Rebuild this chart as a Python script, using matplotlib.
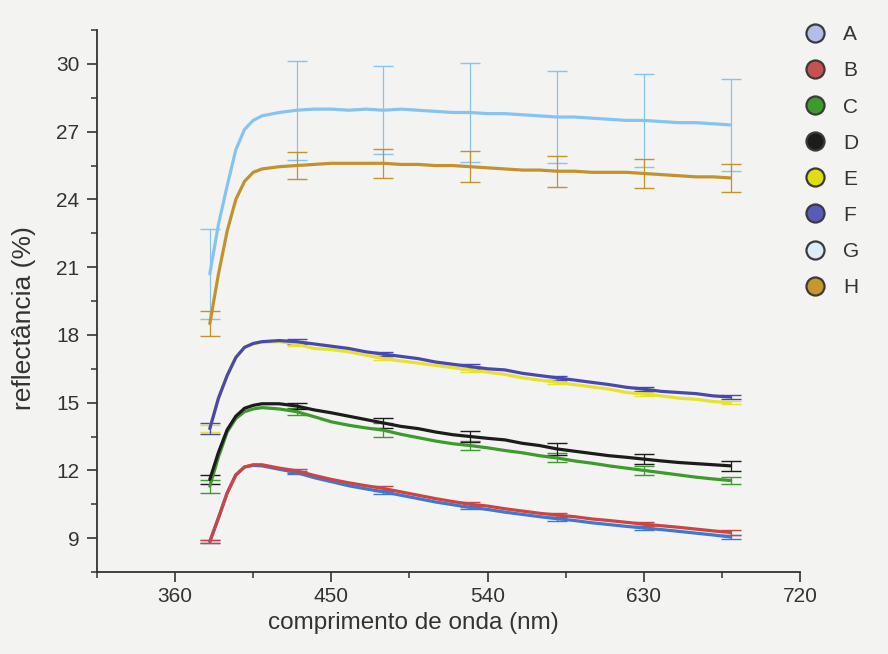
import matplotlib
matplotlib.use("Agg")
import matplotlib.pyplot as plt
from matplotlib.lines import Line2D
from matplotlib.ticker import MultipleLocator

plt.rcParams['font.family'] = ['Liberation Sans', 'DejaVu Sans']

# wavelength grid (nm)
wavelength = [380, 385, 390, 395, 400, 405, 410,
              420, 430, 440, 450, 460, 470, 480, 490, 500, 510, 520, 530,
              540, 550, 560, 570, 580, 590, 600, 610, 620, 630, 640, 650,
              660, 670, 680]

# reflectance (%) for each sample
refl_A = [8.85, 9.9, 11.0, 11.8, 12.15, 12.22, 12.2,
          12.05, 11.9, 11.68, 11.5, 11.32, 11.18, 11.05, 10.9, 10.75, 10.6, 10.48, 10.36,
          10.27, 10.15, 10.05, 9.95, 9.86, 9.78, 9.68, 9.6, 9.52, 9.45, 9.38, 9.3,
          9.22, 9.14, 9.05]
refl_B = [8.85, 9.9, 11.0, 11.8, 12.15, 12.25, 12.25,
          12.1, 11.98, 11.78, 11.6, 11.45, 11.32, 11.2, 11.05, 10.9, 10.75, 10.62, 10.5,
          10.42, 10.3, 10.2, 10.1, 10.02, 9.95, 9.85, 9.78, 9.7, 9.62, 9.55, 9.48,
          9.4, 9.32, 9.25]
refl_C = [11.3, 12.6, 13.7, 14.3, 14.6, 14.72, 14.78,
          14.72, 14.6, 14.38, 14.15, 14.0, 13.88, 13.78, 13.6, 13.45, 13.3, 13.18, 13.1,
          13.0, 12.88, 12.78, 12.65, 12.55, 12.42, 12.32, 12.2, 12.1, 12.0, 11.9, 11.8,
          11.7, 11.62, 11.55]
refl_D = [11.6, 12.8, 13.8, 14.4, 14.75, 14.88, 14.95,
          14.95, 14.85, 14.68, 14.55, 14.4, 14.25, 14.1, 13.95, 13.85, 13.7, 13.58, 13.5,
          13.42, 13.35, 13.2, 13.1, 12.95, 12.85, 12.75, 12.65, 12.58, 12.5, 12.42, 12.35,
          12.3, 12.25, 12.2]
refl_E = [13.85, 15.2, 16.2, 17.0, 17.45, 17.6, 17.68,
          17.7, 17.6, 17.4, 17.35, 17.25, 17.1, 16.95, 16.85, 16.75, 16.65, 16.55, 16.45,
          16.35, 16.25, 16.1, 16.0, 15.9, 15.8, 15.7, 15.6, 15.45, 15.38, 15.3, 15.2,
          15.15, 15.05, 15.0]
refl_F = [13.85, 15.2, 16.2, 17.0, 17.45, 17.62, 17.7,
          17.75, 17.7, 17.6, 17.5, 17.4, 17.25, 17.15, 17.05, 16.95, 16.8, 16.7, 16.6,
          16.5, 16.45, 16.3, 16.2, 16.1, 16.0, 15.9, 15.8, 15.68, 15.6, 15.5, 15.45,
          15.4, 15.3, 15.25]
refl_G = [20.7, 22.9, 24.6, 26.2, 27.1, 27.5, 27.7,
          27.85, 27.95, 28.0, 28.0, 27.95, 28.0, 27.95, 28.0, 27.95, 27.9, 27.85, 27.85,
          27.8, 27.8, 27.75, 27.7, 27.65, 27.65, 27.6, 27.55, 27.5, 27.5, 27.45, 27.4,
          27.4, 27.35, 27.3]
refl_H = [18.5, 20.7, 22.6, 24.0, 24.8, 25.2, 25.35,
          25.45, 25.5, 25.55, 25.6, 25.6, 25.6, 25.6, 25.55, 25.55, 25.5, 25.5, 25.45,
          25.4, 25.35, 25.3, 25.3, 25.25, 25.25, 25.2, 25.2, 25.2, 25.15, 25.1, 25.05,
          25.0, 25.0, 24.95]

# standard deviations at selected wavelengths
err_wavelength = [380, 430, 480, 530, 580, 630, 680]
err_A = [0.06, 0.06, 0.08, 0.08, 0.08, 0.08, 0.08]
err_B = [0.08, 0.08, 0.1, 0.1, 0.1, 0.1, 0.1]
err_C = [0.28, 0.15, 0.3, 0.2, 0.2, 0.2, 0.15]
err_D = [0.2, 0.12, 0.24, 0.25, 0.25, 0.22, 0.22]
err_E = [0.15, 0.08, 0.08, 0.08, 0.08, 0.08, 0.08]
err_F = [0.25, 0.1, 0.1, 0.1, 0.1, 0.1, 0.1]
err_G = [2.0, 2.2, 1.95, 2.2, 2.05, 2.07, 2.05]
err_H = [0.55, 0.6, 0.65, 0.68, 0.68, 0.65, 0.62]

labels = ["A", "B", "C", "D", "E", "F", "G", "H"]
line_colors = ["#3f78d0", "#cc4444", "#3d9a2c", "#1c1c1c",
               "#e6e22e", "#4848b0", "#86c4f0", "#c4922c"]
face_colors = ["#b4bcea", "#c85050", "#3d9a2c", "#1c1c1c",
               "#dede10", "#5a5ab8", "#dcecf8", "#c8962e"]
series = [refl_A, refl_B, refl_C, refl_D, refl_E, refl_F, refl_G, refl_H]
errors = [err_A, err_B, err_C, err_D, err_E, err_F, err_G, err_H]

bg = "#f3f3f1"
fig = plt.figure(figsize=(8.88, 6.54), dpi=100, facecolor=bg)
ax = fig.add_axes([0.1092, 0.1254, 0.7917, 0.8286], facecolor=bg)

for i in range(len(series)):
    y = series[i]
    ax.plot(wavelength, y, color=line_colors[i], lw=2.3, zorder=3,
            solid_capstyle='round')
    ym = [y[wavelength.index(w)] for w in err_wavelength]
    ax.errorbar(err_wavelength, ym, yerr=errors[i], fmt='none',
                ecolor=line_colors[i], elinewidth=0.9, capsize=7,
                capthick=1.0, zorder=2)

ax.set_xlim(315, 720)
ax.set_ylim(7.5, 31.5)
ax.xaxis.set_minor_locator(MultipleLocator(45))
ax.yaxis.set_major_locator(MultipleLocator(3))
ax.yaxis.set_minor_locator(MultipleLocator(1.5))
ax.set_xticks([360, 450, 540, 630, 720])

for s in ["top", "right"]:
    ax.spines[s].set_visible(False)
for s in ["left", "bottom"]:
    ax.spines[s].set_color("#333333")
    ax.spines[s].set_linewidth(1.3)
ax.tick_params(which="major", direction="out", length=7.5, width=1.2,
               colors="#333333", labelsize=15)
ax.tick_params(which="minor", direction="out", length=4.5, width=1.1,
               colors="#333333")
ax.tick_params(axis="x", which="major", pad=3)
ax.tick_params(axis="y", which="major", pad=5)

ax.set_xlabel("comprimento de onda (nm)", fontsize=17.5, color="#333333")
ax.set_ylabel("reflectância (%)", fontsize=19, color="#333333")
ax.xaxis.set_label_coords(0.45, -0.074)
ax.yaxis.set_label_coords(-0.087, 0.469)

handles = [Line2D([], [], linestyle='none', marker='o', markersize=13,
                  markerfacecolor=face_colors[i], markeredgecolor="#3a3a3a",
                  markeredgewidth=1.6) for i in range(8)]
fig.legend(handles, labels, loc="upper left", bbox_to_anchor=(0.885, 0.974),
           frameon=False, fontsize=15, labelspacing=0.82, handletextpad=0.35,
           borderaxespad=0, labelcolor="#333333")

fig.savefig("out.png", dpi=100, facecolor=bg)
